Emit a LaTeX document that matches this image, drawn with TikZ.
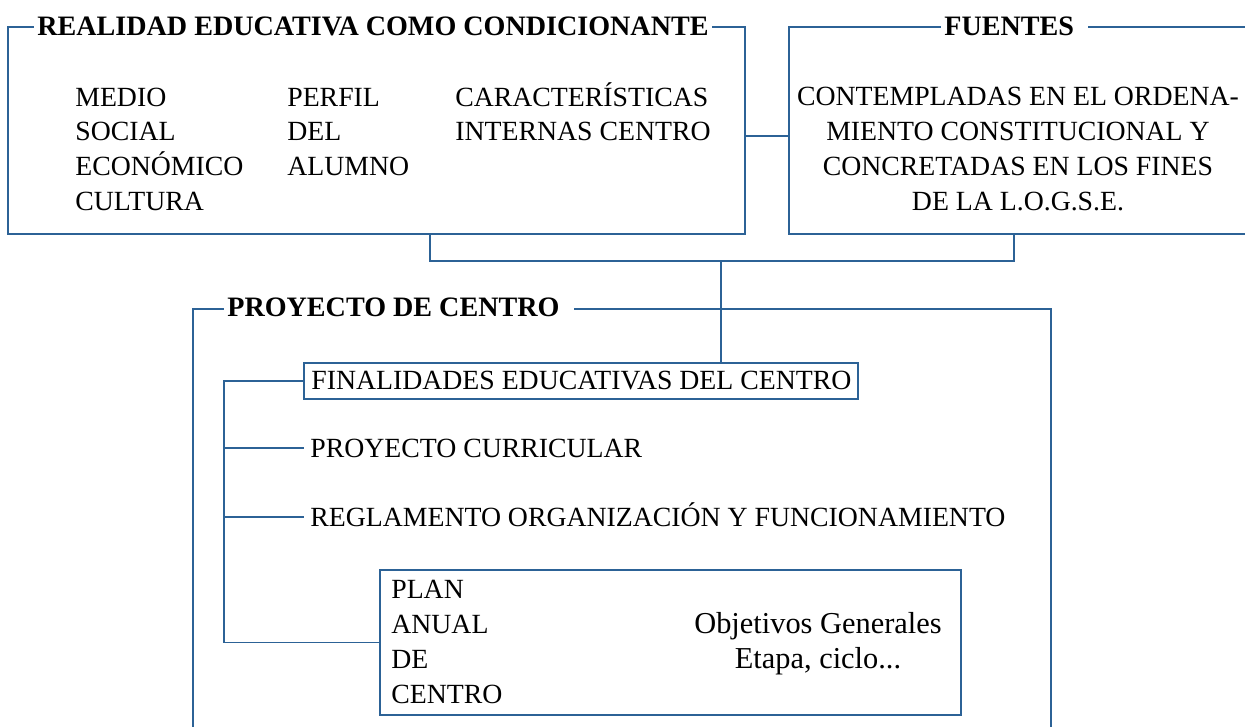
\documentclass[tikz,border=0pt]{standalone}
\usepackage{fontspec}
\setmainfont{Liberation Serif}
\usetikzlibrary{positioning, calc, fit}
\definecolor{lineblue}{RGB}{44, 98, 150}

\begin{document}
\begin{tikzpicture}[x=0.02cm, y=-0.02cm,
  caja/.style={draw=lineblue, line width=1.1pt, inner sep=0pt},
  linea/.style={draw=lineblue, line width=1.1pt},
  texto/.style={font=\fontsize{15.8}{19}\selectfont, inner sep=0pt, text height=10.5pt, text depth=0pt},
  titulo/.style={font=\fontsize{16}{19}\selectfont\bfseries, fill=white, inner xsep=0.06cm, inner ysep=2pt, anchor=base west}]
  \useasboundingbox (0,0) rectangle (1245,727);
  \clip (0,0) rectangle (1245,727);

  % cajas
  \node[caja, fit={(8,27) (745,234)}] (real) {};
  \node[caja, fit={(789,27) (1265,234)}] (fue) {};
  \node[caja, fit={(193,309) (1051,760)}] (proy) {};
  \node[caja, fit={(304,363) (858,399)}] (fin) {};
  \node[caja, fit={(380,570) (961,715)}] (plan) {};

  % titulos
  \node[titulo] (realTit) at (34,35) {REALIDAD EDUCATIVA COMO CONDICIONANTE};
  \node[titulo] (fueTit) at (941,35) {FUENTES\kern0.22cm};
  \node[titulo] (proyTit) at (224,316) {PROYECTO DE CENTRO\kern0.22cm};

  % realidad educativa
  \foreach \t [count=\i] in {MEDIO, SOCIAL, ECONÓMICO, CULTURA}
    \node[texto, anchor=base west] (medio\i) at (75,{106+34.8*(\i-1)}) {\t};
  \foreach \t [count=\i] in {PERFIL, DEL, ALUMNO}
    \node[texto, anchor=base west] (perfil\i) at (287,{106+34.8*(\i-1)}) {\t};
  \foreach \t [count=\i] in {CARACTERÍSTICAS, INTERNAS CENTRO}
    \node[texto, anchor=base west] (carac\i) at (455,{106+34.8*(\i-1)}) {\t};

  % fuentes
  \foreach \t [count=\i] in {CONTEMPLADAS EN EL ORDENA-, MIENTO CONSTITUCIONAL Y, CONCRETADAS EN LOS FINES, DE LA L.O.G.S.E.}
    \node[texto, anchor=base] (fuente\i) at (1018,{105+35*(\i-1)}) {\t};

  % proyecto de centro
  \node[texto, anchor=base west] (finTxt) at (311,389) {FINALIDADES EDUCATIVAS DEL CENTRO};
  \node[texto, anchor=base west, inner xsep=0.12cm] (curric) at (304,457) {PROYECTO CURRICULAR};
  \node[texto, anchor=base west, inner xsep=0.12cm] (regla) at (304,526) {REGLAMENTO ORGANIZACIÓN Y FUNCIONAMIENTO};
  \foreach \t [count=\i] in {PLAN, ANUAL, DE, CENTRO}
    \node[texto, anchor=base west] (plan\i) at (391,{598+35*(\i-1)}) {\t};
  \node[texto, anchor=base, font=\fontsize{17.3}{19}\selectfont] (obj) at (818,633) {Objetivos Generales};
  \node[texto, anchor=base, font=\fontsize{17.3}{19}\selectfont] (etapa) at (818,668) {Etapa, ciclo...};

  % conectores
  \coordinate (bajaReal) at (430,234);
  \coordinate (bajaFue) at (1014,234);
  \coordinate (cruce) at (721,261);
  \coordinate (rama) at (224,0);
  \draw[linea] ([yshift=-0.11cm]real.east) -- ([yshift=-0.11cm]fue.west);
  \draw[linea] (bajaReal) |- (cruce) -| (bajaFue);
  \draw[linea] (cruce) -- (cruce |- fin.north);
  \draw[linea] (fin.west) -| (rama |- plan.west) -- (plan.west);
  \draw[linea] (rama |- curric.west) -- (curric.west);
  \draw[linea] (rama |- regla.west) -- (regla.west);
\end{tikzpicture}
\end{document}
